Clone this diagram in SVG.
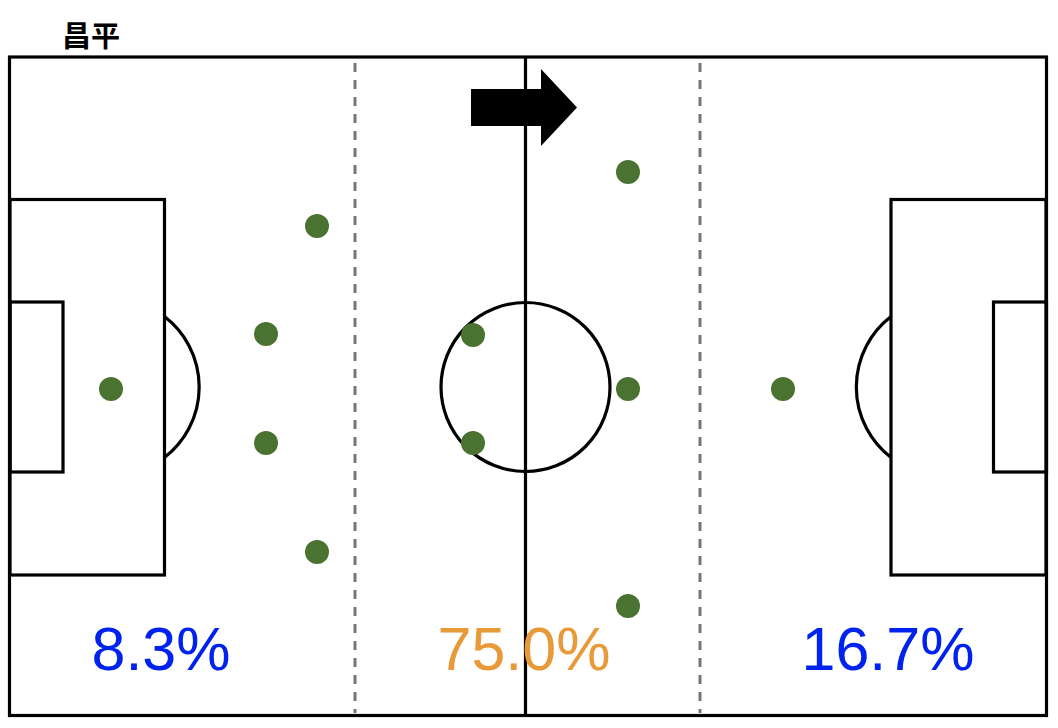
<svg xmlns="http://www.w3.org/2000/svg" width="1058" height="728" viewBox="0 0 1058 728">
<style>
.line{fill:none;stroke:#000;stroke-width:3.2}
.dash{fill:none;stroke:#777;stroke-width:3;stroke-dasharray:9 8}
.p{fill:#4a7230}
.pct{font-family:"Liberation Sans",Arial,sans-serif;font-size:61px;text-anchor:middle}
.title{font-family:"Noto Sans CJK SC","Noto Sans",sans-serif;font-size:29px;font-weight:bold}
</style>
<rect width="1058" height="728" fill="#fff"/>
<text class="title" x="62" y="47">昌平</text>
<g id="pitch">
<rect class="line" x="9.5" y="57" width="1037" height="658.5" stroke-width="4"/>
<line class="dash" x1="355" y1="63" x2="355" y2="713"/>
<line class="dash" x1="700" y1="63" x2="700" y2="713"/>
<line class="line" x1="525.5" y1="57" x2="525.5" y2="715"/>
<circle class="line" cx="525.5" cy="387" r="84.5"/>
<rect class="line" x="10" y="199.5" width="154.5" height="375.5"/>
<rect class="line" x="10" y="302" width="53" height="170"/>
<path class="line" d="M164.5 316.5 A89 89 0 0 1 164.5 457.5"/>
<rect class="line" x="891" y="199.5" width="155" height="375.5"/>
<rect class="line" x="993.5" y="302" width="53" height="170"/>
<path class="line" d="M891 316.5 A89 89 0 0 0 891 457.5"/>
</g>
<g id="arrow">
<polygon points="471,89 541,89 541,69 577,107.5 541,146 541,126 471,126" fill="#000"/>
</g>
<g id="players">
<circle class="p" cx="111" cy="389" r="12"/>
<circle class="p" cx="317" cy="226" r="12"/>
<circle class="p" cx="266" cy="334" r="12"/>
<circle class="p" cx="266" cy="443" r="12"/>
<circle class="p" cx="317" cy="552" r="12"/>
<circle class="p" cx="473" cy="335" r="12"/>
<circle class="p" cx="473" cy="443" r="12"/>
<circle class="p" cx="628" cy="172" r="12"/>
<circle class="p" cx="628" cy="389" r="12"/>
<circle class="p" cx="628" cy="606" r="12"/>
<circle class="p" cx="783" cy="389" r="12"/>
</g>
<g id="labels">
<text class="pct" x="161" y="670" fill="#0022ee">8.3%</text>
<text class="pct" x="524" y="670" fill="#e89a38">75.0%</text>
<text class="pct" x="888" y="670" fill="#0022ee">16.7%</text>
</g>
</svg>
